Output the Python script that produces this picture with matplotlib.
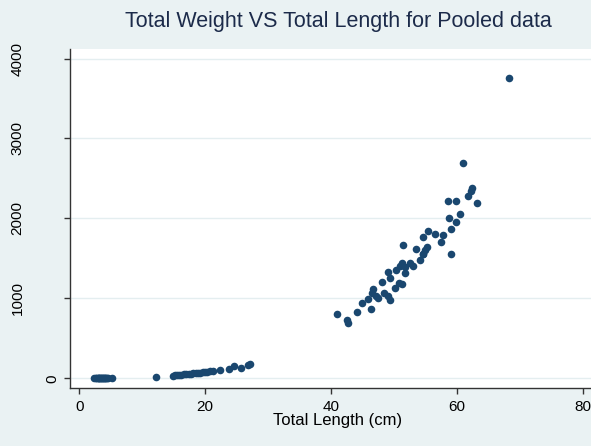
import matplotlib.pyplot as plt
import matplotlib.transforms as mtransforms

# total length (cm) and total weight (g)
length_small = [2.4, 2.6, 2.7, 2.9, 3.0, 3.1, 3.2, 3.3, 3.4, 3.5, 3.6, 3.7,
                3.8, 3.9, 4.0, 4.1, 4.2, 4.4, 4.6, 5.2]
weight_small = [0.2, 0.3, 0.3, 0.4, 0.4, 0.5, 0.5, 0.6, 0.6, 0.7, 0.7, 0.8,
                0.8, 0.9, 1.0, 1.0, 1.1, 1.2, 1.4, 2.0]

length_mid = [12.1, 14.8, 15.2, 15.5, 15.9, 16.2, 16.6, 17.0, 17.4, 17.8,
              18.1, 18.5, 18.9, 19.2, 19.6, 20.0, 20.3, 20.8, 21.2,
              22.4, 23.7, 24.6, 25.7, 26.8, 27.1]
weight_mid = [16, 35, 38, 40, 44, 47, 50, 52, 56, 60,
              62, 66, 70, 72, 76, 80, 83, 88, 92,
              100, 121, 152, 129, 162, 183]

length_big = [41.0, 42.5, 42.6, 44.1, 44.9, 45.9, 46.3, 46.5, 46.7, 47.2,
              47.5, 48.1, 48.4, 49.0, 49.1, 49.4, 49.4, 50.2, 50.3, 50.7,
              50.9, 51.2, 51.3, 51.4, 51.7, 51.7, 52.5, 53.0, 53.4, 54.1,
              54.6, 54.6, 54.6, 54.9, 55.2, 55.4, 56.5, 57.4, 57.7, 58.5,
              58.7, 59.0, 59.1, 59.8, 59.9, 60.5, 61.0, 61.8, 62.2, 62.3,
              63.1, 68.3]
weight_big = [810, 725, 690, 830, 940, 995, 870, 1065, 1120, 1035,
              1010, 1205, 1065, 1330, 1035, 1260, 985, 1130, 1360, 1190,
              1400, 1440, 1175, 1665, 1390, 1315, 1440, 1410, 1615, 1485,
              1560, 1770, 1560, 1600, 1640, 1840, 1810, 1700, 1795, 2215,
              2010, 1560, 1870, 1955, 2215, 2055, 2690, 2275, 2340, 2380,
              2195, 3755]

lengths = length_small + length_mid + length_big
weights = weight_small + weight_mid + weight_big

yticks = [0, 1000, 2000, 3000, 4000]
xticks = [0, 20, 40, 60, 80]

bg = '#eaf2f3'
navy = '#1a476f'

plt.rcParams['font.family'] = ['Liberation Sans', 'DejaVu Sans']

fig = plt.figure(figsize=(5.91, 4.46), dpi=100, facecolor=bg)
ax = fig.add_axes([70 / 591, 58 / 446, 521 / 591, 339 / 446])
ax.set_facecolor('white')

ax.scatter(lengths, weights, s=30, color=navy, linewidths=0, zorder=3)

ax.set_xlim(-1.48, 81.27)
ax.set_ylim(-121, 4119)

ax.set_xticks(xticks)
ax.set_xticklabels([str(v) for v in xticks], fontsize=11)
ax.set_yticks(yticks)
ax.set_yticklabels([])
ax.grid(axis='y', color='#e4eef0', linewidth=1.0, zorder=0)
ax.grid(axis='x', visible=False)

for side in ['top', 'right']:
    ax.spines[side].set_visible(False)
for side in ['left', 'bottom']:
    ax.spines[side].set_color('#333333')
    ax.spines[side].set_linewidth(1.0)
ax.tick_params(axis='both', direction='out', length=4.5, width=1.0,
               color='#333333', labelcolor='black')
ax.tick_params(axis='x', pad=4)

# stata style rotated y labels, anchored by their unrotated width
trans = mtransforms.blended_transform_factory(fig.transFigure, ax.transData)
for v in yticks:
    lab = str(v)
    xc = (52 - (len(lab) - 1) * 11.5) / 591
    ax.text(xc, v, lab, rotation=90, ha='center', va='center',
            fontsize=11, transform=trans)

fig.text(338 / 591, 1 - 421 / 446, 'Total Length (cm)', ha='center',
         va='center', fontsize=12)
fig.text(338 / 591, 1 - 21 / 446, 'Total Weight VS Total Length for Pooled data',
         ha='center', va='center', fontsize=15.5, color='#1c2b4a')

fig.savefig('out.png', dpi=100, facecolor=bg)
